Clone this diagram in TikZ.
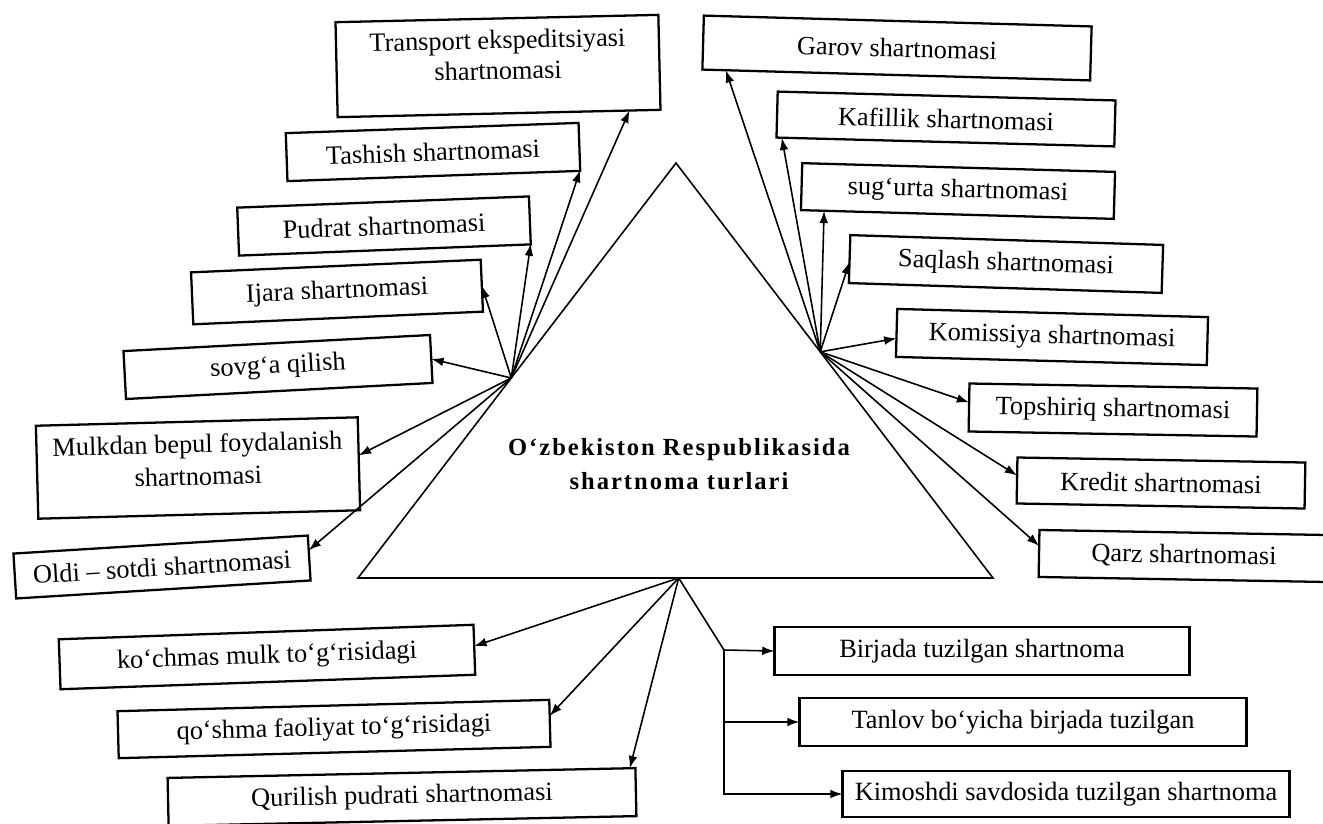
\documentclass[tikz,border=0pt]{standalone}
\usepackage{fontspec}
\setmainfont{Liberation Serif}
\usetikzlibrary{arrows.meta, calc}

\tikzset{
  turbox/.style={draw, line width=1.3pt, inner sep=0pt, outer sep=0pt, align=center,
    font=\fontsize{15}{17.5}\selectfont},
  turarrow/.style={-{Latex[length=7pt,width=5pt]}, line width=0.9pt},
  turline/.style={line width=0.9pt},
}

\begin{document}
\begin{tikzpicture}[x=0.02cm, y=-0.02cm]
\useasboundingbox (0,0) rectangle (1323,823);

% Triangle
\coordinate (top) at (676,163);
\coordinate (botleft) at (358,578);
\coordinate (botright) at (993,578);
\draw[turline] (top) -- (botleft) -- (botright) -- cycle;
\node[align=center, font=\fontsize{14}{19}\selectfont\bfseries\addfontfeature{LetterSpace=8}] (title) at (679,464)
  {O‘zbekiston Respublikasida\\shartnoma turlari};

\coordinate (hubleft) at ($(top)!0.518!(botleft)$);
\coordinate (hubright) at ($(top)!0.455!(botright)$);
\coordinate (hubbottom) at ($(botleft)!0.505!(botright)$);

% Left side
\node[turbox, rotate=1.3, minimum width=6.46cm, minimum height=1.90cm] (transport) at (498,66) {Transport ekspeditsiyasi\\shartnomasi\\[-5pt]};
\node[turbox, rotate=2, minimum width=5.86cm, minimum height=0.96cm] (tashish) at (433,152) {Tashish shartnomasi};
\node[turbox, rotate=2.2, minimum width=5.84cm, minimum height=0.96cm] (pudrat) at (384,226) {Pudrat shartnomasi};
\node[turbox, rotate=2.5, minimum width=5.80cm, minimum height=1.04cm] (ijara) at (337,292) {Ijara shartnomasi};
\node[turbox, rotate=3, minimum width=6.14cm, minimum height=0.96cm] (sovga) at (278,367) {sovg‘a qilish};
\node[turbox, rotate=1.5, font=\fontsize{15}{18.5}\selectfont, minimum width=6.44cm, minimum height=1.86cm] (mulkdan) at (198,468) {Mulkdan bepul foydalanish\\shartnomasi\\[-9pt]};
\node[turbox, rotate=3.5, minimum width=5.90cm, minimum height=0.90cm] (oldi) at (162,567) {Oldi – sotdi shartnomasi};

\draw[turarrow] (hubleft) -- (transport.-20);
\draw[turarrow] (hubleft) -- (tashish.-9);
\draw[turarrow] (hubleft) -- (pudrat.-9);
\draw[turarrow] (hubleft) -- (ijara.0);
\draw[turarrow] (hubleft) -- (sovga.0);
\draw[turarrow] (hubleft) -- (mulkdan.3);
\draw[turarrow] (hubleft) -- (oldi.3);

% Right side
\node[turbox, rotate=-1.6, minimum width=7.76cm, minimum height=1.08cm] (garov) at (897,48) {Garov shartnomasi};
\node[turbox, rotate=-1.5, minimum width=6.76cm, minimum height=0.92cm] (kafillik) at (946,119) {Kafillik shartnomasi};
\node[turbox, rotate=-1.6, minimum width=6.26cm, minimum height=0.94cm] (sugurta) at (958,191) {sug‘urta shartnomasi};
\node[turbox, rotate=-1.8, minimum width=6.26cm, minimum height=0.96cm] (saqlash) at (1006,264) {Saqlash shartnomasi};
\node[turbox, rotate=-1.5, minimum width=6.22cm, minimum height=0.96cm] (komissiya) at (1052,337) {Komissiya shartnomasi};
\node[turbox, rotate=-1, minimum width=5.76cm, minimum height=0.96cm] (topshiriq) at (1113,410) {Topshiriq shartnomasi};
\node[turbox, rotate=-1, minimum width=5.76cm, minimum height=0.92cm] (kredit) at (1161,483) {Kredit shartnomasi};
\node[turbox, rotate=-1, minimum width=5.80cm, minimum height=0.94cm] (qarz) at (1184,556) {Qarz shartnomasi};

\draw[turarrow] (hubright) -- (garov.189);
\draw[turarrow] (hubright) -- (kafillik.188);
\draw[turarrow] (hubright) -- (sugurta.190);
\draw[turarrow] (hubright) -- (saqlash.181);
\draw[turarrow] (hubright) -- (komissiya.182);
\draw[turarrow] (hubright) -- (topshiriq.178);
\draw[turarrow] (hubright) -- (kredit.178);
\draw[turarrow] (hubright) -- (qarz.177);

% Bottom side
\node[turbox, rotate=2, minimum width=8.30cm, minimum height=1.00cm] (kochmas) at (267,657) {ko‘chmas mulk to‘g‘risidagi};
\node[turbox, rotate=1.5, minimum width=8.64cm, minimum height=0.94cm] (qoshma) at (334,729) {qo‘shma faoliyat to‘g‘risidagi};
\node[turbox, rotate=1.2, minimum width=9.36cm, minimum height=0.96cm] (qurilish) at (402,797) {Qurilish pudrati shartnomasi};

\draw[turarrow] (hubbottom) -- (kochmas.1);
\draw[turarrow] (hubbottom) -- (qoshma.2);
\draw[turarrow] (hubbottom) -- (qurilish.6);

\node[turbox, minimum width=8.30cm, minimum height=0.96cm] (birjada) at (982,651) {Birjada tuzilgan shartnoma};
\node[turbox, minimum width=8.94cm, minimum height=0.96cm] (tanlov) at (1023,722) {Tanlov bo‘yicha birjada tuzilgan};
\node[turbox, minimum width=8.94cm, minimum height=0.92cm] (kimoshdi) at (1066,794) {Kimoshdi savdosida tuzilgan shartnoma};

\coordinate (bend) at (724,650);
\draw[turline] (hubbottom) -- (bend);
\draw[turarrow] (bend) -- (birjada.west);
\draw[turarrow] (bend |- tanlov.west) -- (tanlov.west);
\draw[turarrow] (bend) |- (kimoshdi.west);
\end{tikzpicture}
\end{document}
